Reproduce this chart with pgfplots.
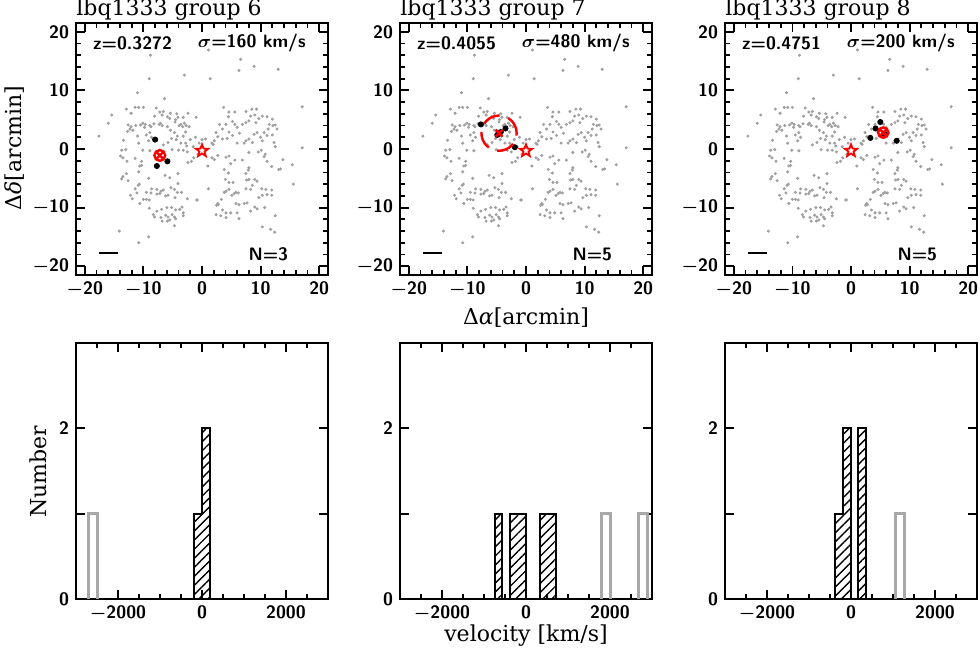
\documentclass[border=0pt]{standalone}
\usepackage{fontspec}
\usepackage{pgfplots}
\pgfplotsset{compat=1.18}
\usepackage{pgfplotstable}
\usetikzlibrary{patterns.meta}
\newfontfamily\labelfamily{DejaVu Serif}
\definecolor{field}{RGB}{160,160,160}
\definecolor{histgray}{RGB}{168,168,168}
\definecolor{grpred}{RGB}{250,0,0}

% open five-point star mark
\pgfdeclareplotmark{ostar}{%
  \pgfpathmoveto{\pgfpointpolar{90}{\pgfplotmarksize}}%
  \pgfpathlineto{\pgfpointpolar{126}{0.42\pgfplotmarksize}}%
  \pgfpathlineto{\pgfpointpolar{162}{\pgfplotmarksize}}%
  \pgfpathlineto{\pgfpointpolar{198}{0.42\pgfplotmarksize}}%
  \pgfpathlineto{\pgfpointpolar{234}{\pgfplotmarksize}}%
  \pgfpathlineto{\pgfpointpolar{270}{0.42\pgfplotmarksize}}%
  \pgfpathlineto{\pgfpointpolar{306}{\pgfplotmarksize}}%
  \pgfpathlineto{\pgfpointpolar{342}{0.42\pgfplotmarksize}}%
  \pgfpathlineto{\pgfpointpolar{18}{\pgfplotmarksize}}%
  \pgfpathlineto{\pgfpointpolar{54}{0.42\pgfplotmarksize}}%
  \pgfpathclose\pgfusepathqstroke}

\newcommand{\tickfont}{\fontsize{9}{10}\selectfont\sffamily\bfseries\boldmath}
\newcommand{\bigfont}{\fontsize{11}{13}\selectfont\labelfamily}
\newcommand{\notefont}{\fontsize{9}{10}\selectfont\sffamily\bfseries\boldmath}

% field galaxies (same in every map panel)
\pgfplotstableread{
x y
-8.8 16.0
-9.0 12.0
-3.0 12.6
-11.0 9.6
-6.4 8.6
-15.4 5.8
-16.0 4.4
-17.6 2.2
-12.9 6.8
-12.1 6.1
-11.4 7.1
-10.8 7.1
-10.0 7.1
-7.8 7.0
-7.2 6.3
-6.6 6.4
-5.4 6.1
-4.3 6.0
-4.1 5.4
-2.4 6.1
-8.1 5.6
-6.8 5.8
-5.9 5.5
-5.5 5.2
-4.5 5.0
-3.2 5.4
-3.0 4.4
-3.3 3.8
-12.6 4.1
-12.1 3.8
-12.3 3.4
-12.7 3.0
-11.3 4.0
-11.8 3.2
-10.5 4.1
-10.1 4.4
-9.7 4.2
-9.8 3.7
-8.9 4.0
-8.7 3.8
-8.2 4.3
-7.3 4.2
-7.1 4.4
-6.8 4.0
-5.9 3.8
-5.4 3.2
-4.6 4.6
-3.9 4.0
-3.6 4.2
-2.7 4.0
-2.2 3.8
-11.0 2.2
-9.5 2.4
-8.9 2.8
-8.6 2.0
-4.7 2.8
-4.2 2.2
-4.4 1.6
-3.2 2.2
-2.8 2.9
-5.2 1.8
-5.8 1.1
-13.4 1.5
-10.8 1.0
-9.1 1.4
-6.6 0.7
-3.6 1.0
-2.8 1.0
-2.0 1.6
-1.1 2.0
-0.5 1.0
-5.1 -0.1
-4.0 -0.2
-2.6 0.5
-1.5 0.4
1.1 16.9
6.6 15.3
6.3 13.4
8.9 14.1
13.0 13.6
1.4 12.0
17.1 7.2
3.7 7.1
4.6 6.3
5.6 6.3
4.5 5.5
5.2 4.7
7.5 6.4
8.5 6.8
9.3 6.8
8.3 5.6
9.0 5.8
8.0 4.8
9.2 4.5
9.7 5.2
10.3 5.6
11.1 5.5
12.0 5.1
11.5 4.2
12.1 4.0
12.5 4.1
12.8 3.4
11.3 3.4
3.0 4.2
4.1 4.2
3.5 3.4
4.6 2.9
5.6 4.2
6.0 3.7
6.4 2.7
6.9 4.2
7.5 4.5
2.4 2.8
2.7 2.1
3.5 1.7
4.3 1.8
5.2 2.3
7.5 1.4
8.0 1.7
8.9 2.5
9.4 2.8
10.0 2.0
10.6 2.8
11.1 2.3
12.0 2.4
12.3 1.1
12.5 0.4
10.3 1.4
8.6 1.1
7.2 1.0
6.0 1.0
2.1 1.4
1.9 0.8
1.7 1.0
0.6 1.7
0.0 1.6
17.1 0.2
-1.0 5.4
-13.7 -0.2
-13.0 -0.1
-13.9 -1.2
-13.5 -1.5
-12.8 -2.1
-10.1 -0.2
-8.9 -0.3
-11.4 -1.6
-10.3 -2.1
-10.3 -2.8
-10.6 -2.9
-10.8 -3.9
-12.9 -4.2
-13.5 -4.7
-13.7 -5.1
-12.6 -5.4
-9.1 -5.0
-6.3 -4.5
-5.5 -4.9
-4.1 -4.2
-3.2 -0.2
-2.5 -0.5
-1.8 -2.1
-2.4 -2.3
-1.4 -1.5
-0.7 -0.9
-10.9 -6.2
-10.7 -6.0
-11.4 -6.8
-11.1 -7.5
-12.2 -7.9
-11.9 -8.5
-10.6 -9.3
-10.0 -8.6
-9.5 -8.6
-9.0 -8.7
-8.7 -7.5
-9.5 -7.4
-8.6 -6.8
-7.7 -6.9
-7.0 -7.2
-6.6 -7.0
-7.7 -7.7
-7.2 -7.6
-6.2 -8.0
-5.8 -7.9
-5.3 -6.6
-4.7 -6.9
-4.2 -7.4
-3.5 -7.4
-4.6 -8.3
-2.5 -8.5
-4.1 -5.9
-0.8 -8.7
-9.0 -10.1
-8.3 -11.2
-8.1 -11.6
-7.0 -11.7
-6.2 -11.3
-5.8 -11.6
-5.5 -12.1
-5.1 -11.2
-4.7 -11.6
-4.5 -11.9
-5.2 -10.0
-4.5 -10.4
-3.8 -10.3
-3.4 -9.9
-3.2 -10.9
-3.2 -11.4
-7.7 -10.6
-6.9 -10.3
-6.0 -10.0
-4.7 -13.1
-6.8 -12.3
-5.9 -12.3
-14.1 -14.0
-9.1 -15.0
-10.8 -16.0
0.7 -0.2
1.7 -1.5
2.1 -1.8
2.7 -1.1
4.1 -1.4
4.6 -1.2
5.6 -1.9
6.9 -1.9
8.0 -0.6
10.1 -0.2
10.8 -0.9
11.1 -2.1
4.9 -2.5
1.0 -2.9
3.8 -3.5
4.5 -4.1
7.5 -4.2
7.9 -3.6
8.0 -3.2
11.9 -3.0
13.1 -3.5
13.4 -3.4
15.4 -2.7
9.6 -0.5
10.6 -1.3
13.8 -1.8
4.0 -5.2
4.6 -5.7
5.3 -5.7
7.6 -5.3
8.0 -5.2
9.0 -5.2
9.4 -5.5
8.6 -6.2
8.3 -6.9
7.5 -6.8
6.2 -7.5
5.8 -7.4
5.5 -7.6
5.1 -7.9
4.1 -7.2
3.8 -7.4
4.6 -6.9
3.3 -8.6
2.5 -9.6
2.7 -9.3
2.8 -9.5
1.1 -6.8
-0.9 -8.7
10.2 -6.8
10.9 -6.9
11.9 -7.0
11.1 -7.8
9.7 -8.3
10.3 -7.9
11.9 -7.9
12.5 -11.4
15.6 -6.0
3.5 -10.4
4.1 -10.9
4.9 -10.9
5.8 -9.3
6.3 -9.5
7.2 -9.3
7.7 -9.2
8.3 -10.6
9.0 -9.9
9.4 -10.2
10.7 -10.0
6.0 -10.9
6.3 -11.9
2.4 -11.2
3.2 -11.4
4.1 -11.7
10.3 -13.3
11.7 -13.7
12.4 -14.2
}\field

\pgfplotsset{
  every axis title shift=0pt,
  frame/.style={
    scale only axis, width=126pt,
    tick align=inside,
    major tick length=4.5pt, minor tick length=2.5pt,
    axis line style={line width=1pt},
    tick style={black, line width=0.9pt},
    tick label style={font=\tickfont},
    title style={at={(0,1)}, anchor=base west, yshift=3.5pt, inner sep=0pt, font=\bigfont},
  },
  map/.style={frame, height=126pt,
    xmin=-21.5, xmax=21.5, ymin=-21.5, ymax=21.5,
    xtick={-20,-10,0,10,20}, ytick={-20,-10,0,10,20},
    xticklabels={$-$20,$-$10,0,10,20}, yticklabels={$-$20,$-$10,0,10,20},
    minor tick num=4,
  },
  hist/.style={frame, height=128pt,
    xmin=-3000, xmax=3000, ymin=0, ymax=3,
    xtick={-2000,0,2000}, xticklabels={$-$2000,0,2000},
    minor xtick={-2500,-1500,-1000,-500,500,1000,1500,2500},
    ytick={0,1,2}, yticklabels={0,,2},
  },
  fieldpts/.style={only marks, mark=*, mark size=0.55pt, color=field},
  members/.style={only marks, mark=*, mark size=1.3pt, color=black},
  qso/.style={only marks, mark=ostar, mark size=3.2pt, color=grpred, line width=0.9pt},
  bar/.style={draw=black, line width=1pt, pattern={Lines[angle=45,distance=3.2pt,line width=0.7pt]}, pattern color=black},
  other/.style={draw=histgray, line width=1.5pt},
}

\begin{document}
\begin{tikzpicture}
\path[use as bounding box] (0,0) rectangle (490pt,326.5pt);

% ---------- group 6 map ----------
\begin{axis}[map, at={(38pt,189pt)}, anchor=south west, title={lbq1333 group 6}]
\addplot[fieldpts] table {\field};
\addplot[members] coordinates {(-8.0,1.6) (-7.7,-2.9) (-5.9,-2.1)};
\addplot[qso] coordinates {(0,-0.3)};
\addplot[only marks, mark=o, mark size=2.7pt, color=grpred, line width=1.2pt] coordinates {(-7.2,-1.1)};
\addplot[only marks, mark=x, mark size=2.7pt, color=grpred, line width=1.2pt] coordinates {(-7.2,-1.1)};
\addplot[black, line width=1pt] coordinates {(-17.6,-17.8) (-14.4,-17.8)};
\node[font=\notefont, anchor=west] at (axis cs:-19.8,18.1) {z=0.3272};
\node[font=\notefont, anchor=east] at (axis cs:18.9,18.1) {$\sigma$=160 km/s};
\node[font=\notefont, anchor=east] at (axis cs:15.9,-18.0) {N=3};
\end{axis}

% ---------- group 7 map ----------
\begin{axis}[map, at={(200pt,189pt)}, anchor=south west, title={lbq1333 group 7}]
\addplot[fieldpts] table {\field};
\addplot[members] coordinates {(-7.7,4.2) (-3.5,3.5) (-1.9,0.3) (-4.9,2.4) (-4.3,2.9)};
\addplot[qso] coordinates {(0,-0.3)};
\addplot[only marks, mark=o, mark size=8.8pt, color=grpred, line width=1.2pt,
  mark options={dash pattern=on 9pt off 4.5pt}] coordinates {(-4.6,2.7)};
\addplot[only marks, mark=x, mark size=2.4pt, color=grpred, line width=1.2pt] coordinates {(-4.6,2.7)};
\addplot[black, line width=1pt] coordinates {(-17.6,-17.8) (-14.4,-17.8)};
\node[font=\notefont, anchor=west] at (axis cs:-19.8,18.1) {z=0.4055};
\node[font=\notefont, anchor=east] at (axis cs:18.9,18.1) {$\sigma$=480 km/s};
\node[font=\notefont, anchor=east] at (axis cs:15.9,-18.0) {N=5};
\end{axis}

% ---------- group 8 map ----------
\begin{axis}[map, at={(362.5pt,189pt)}, anchor=south west, title={lbq1333 group 8}]
\addplot[fieldpts] table {\field};
\addplot[members] coordinates {(5.0,4.6) (4.2,3.5) (3.3,1.9) (7.8,1.4) (5.7,2.6)};
\addplot[qso] coordinates {(0,-0.3)};
\addplot[only marks, mark=o, mark size=2.6pt, color=grpred, line width=1.2pt] coordinates {(5.5,2.8)};
\addplot[only marks, mark=x, mark size=2.6pt, color=grpred, line width=1.2pt] coordinates {(5.5,2.8)};
\addplot[black, line width=1pt] coordinates {(-17.6,-17.8) (-14.4,-17.8)};
\node[font=\notefont, anchor=west] at (axis cs:-19.8,18.1) {z=0.4751};
\node[font=\notefont, anchor=east] at (axis cs:18.9,18.1) {$\sigma$=200 km/s};
\node[font=\notefont, anchor=east] at (axis cs:15.9,-18.0) {N=5};
\end{axis}

% ---------- velocity histograms ----------
\begin{axis}[hist, at={(38pt,27pt)}, anchor=south west]
\addplot[other] coordinates {(-2700,0) (-2700,1) (-2500,1) (-2500,0)};
\addplot[bar] coordinates {(-190,0) (-190,1) (0,1) (0,2) (180,2) (180,0)} --cycle;
\end{axis}

\begin{axis}[hist, at={(200pt,27pt)}, anchor=south west]
\addplot[other] coordinates {(1790,0) (1790,1) (2010,1) (2010,0)};
\addplot[other] coordinates {(2680,0) (2680,1) (2900,1) (2900,0)};
\addplot[bar] coordinates {(-750,0) (-750,1) (-560,1) (-560,0)} --cycle;
\addplot[bar] coordinates {(-390,0) (-390,1) (0,1) (0,0)} --cycle;
\addplot[bar] coordinates {(340,0) (340,1) (715,1) (715,0)} --cycle;
\end{axis}

\begin{axis}[hist, at={(362.5pt,27pt)}, anchor=south west]
\addplot[other] coordinates {(1050,0) (1050,1) (1280,1) (1280,0)};
\addplot[bar] coordinates {(-380,0) (-380,1) (-195,1) (-195,2) (0,2) (0,0)} --cycle;
\addplot[bar] coordinates {(160,0) (160,2) (355,2) (355,0)} --cycle;
\end{axis}

% ---------- shared axis labels ----------
\node[font=\bigfont, rotate=90] at (7.5pt,252.5pt) {Δ\textit{δ}[arcmin]};
\node[font=\bigfont] at (263pt,167.5pt) {Δ\textit{α}[arcmin]};
\node[font=\bigfont, rotate=90] at (19pt,90.5pt) {Number};
\node[font=\bigfont] at (263pt,8.5pt) {velocity [km/s]};
\end{tikzpicture}
\end{document}
